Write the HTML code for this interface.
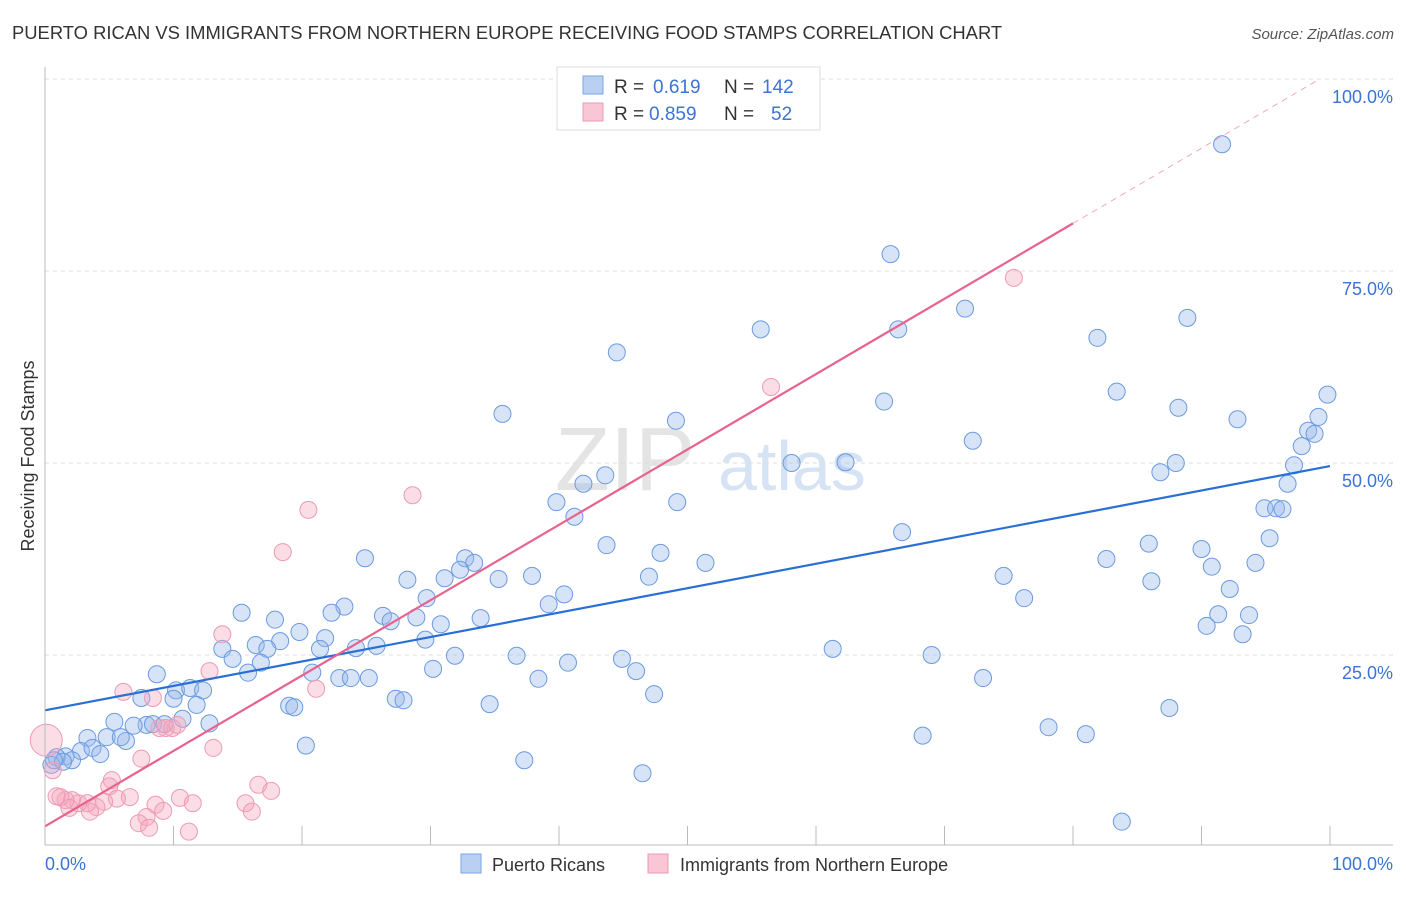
<!DOCTYPE html>
<html><head><meta charset="utf-8">
<style>
body{margin:0;background:#fff;font-family:"Liberation Sans",sans-serif;}
svg text{font-family:"Liberation Sans",sans-serif;}
</style></head>
<body>
<svg id="chart" width="1406" height="892" viewBox="0 0 1406 892">
<text x="12" y="39" font-size="18.4" fill="#333">PUERTO RICAN VS IMMIGRANTS FROM NORTHERN EUROPE RECEIVING FOOD STAMPS CORRELATION CHART</text>
<text x="1394" y="39" font-size="15" fill="#555" text-anchor="end" font-style="italic">Source: ZipAtlas.com</text>
<text x="555" y="490" font-size="90" fill="#e4e4e4" font-family="Liberation Serif">ZIP</text>
<text x="718" y="490" font-size="70" fill="#d6e3f4">atlas</text>
<text transform="translate(34,456) rotate(-90)" font-size="18" fill="#333" text-anchor="middle">Receiving Food Stamps</text>
<g id="grid"></g><g id="pts"></g><g id="lines"></g>
<line x1="45" y1="67" x2="45" y2="845" stroke="#bbb"/>
<line x1="45" y1="845" x2="1393" y2="845" stroke="#bbb"/>
<text x="45" y="870" font-size="18" fill="#3b73d6">0.0%</text>
<text x="1393" y="870" font-size="18" fill="#3b73d6" text-anchor="end">100.0%</text>
<g>
<rect x="557" y="67" width="263" height="63" fill="#fff" stroke="#ddd"/>
<rect x="583" y="76" width="20" height="18" fill="#b9d0f3" stroke="#7aa5e6"/>
<rect x="583" y="103" width="20" height="18" fill="#f8c6d5" stroke="#ee9ab5"/>
<text x="614" y="93" font-size="19" fill="#333">R =</text>
<text x="653" y="93" font-size="19" fill="#3b73d6">0.619</text>
<text x="724" y="93" font-size="19" fill="#333">N =</text>
<text x="762" y="93" font-size="19" fill="#3b73d6">142</text>
<text x="614" y="120" font-size="19" fill="#333">R =</text>
<text x="649" y="120" font-size="19" fill="#3b73d6">0.859</text>
<text x="724" y="120" font-size="19" fill="#333">N =</text>
<text x="771" y="120" font-size="19" fill="#3b73d6">52</text>
</g>
<g>
<rect x="461" y="854" width="20" height="19" fill="#b9d0f3" stroke="#7aa5e6"/>
<text x="492" y="871" font-size="18" fill="#333">Puerto Ricans</text>
<rect x="648" y="854" width="20" height="19" fill="#f8c6d5" stroke="#ee9ab5"/>
<text x="680" y="871" font-size="18" fill="#333">Immigrants from Northern Europe</text>
</g>
</svg>
<script>
const yTicks=[25,50,75,100];
const yTickLabels=["25.0%","50.0%","75.0%","100.0%"];
const xTicks=[10,20,30,40,50,60,70,80,90,100];
const blueX=[91.6,65.8,71.6,55.7,66.4,88.9,81.9,44.5,83.4,65.3,88.2,35.6,49.1,92.8,99.8,99.1,98.3,98.8,97.8,72.2,97.2,96.7,58.1,62.3,88.0,86.8,43.6,41.9,39.8,49.2,94.9,95.8,96.3,41.2,66.7,95.3,85.9,90.0,82.6,94.2,43.7,47.9,51.4,24.9,32.7,33.4,32.3,90.8,74.6,86.1,92.2,37.9,35.3,31.1,28.2,47.0,76.2,29.7,40.4,39.2,91.3,93.7,15.3,17.9,23.3,22.3,26.3,26.9,33.9,28.9,30.8,90.4,93.2,19.8,29.6,21.8,18.3,16.4,17.3,21.4,24.2,25.8,61.3,13.8,69.0,36.7,31.9,44.9,14.6,16.8,40.7,30.2,46.0,15.8,20.8,22.9,23.8,25.2,73.0,38.4,8.7,10.2,11.3,12.3,7.5,10.0,47.4,27.3,27.9,19.0,19.4,34.6,11.8,87.5,5.4,12.8,10.7,7.9,6.9,8.4,9.3,3.3,4.8,6.3,5.9,2.8,3.7,4.3,1.6,2.1,0.9,0.5,1.4,0.7,20.3,78.1,81.0,68.3,37.3,46.5,83.8];
const blueY=[91.5,77.2,70.1,67.4,67.4,68.9,66.3,64.4,59.3,58.0,57.2,56.4,55.5,55.7,58.9,56.0,54.2,53.8,52.2,52.9,49.7,47.3,50.0,50.1,50.0,48.8,48.4,47.3,44.9,44.9,44.1,44.1,44.0,43.0,41.0,40.2,39.5,38.8,37.5,37.0,39.3,38.3,37.0,37.6,37.6,37.0,36.1,36.5,35.3,34.6,33.6,35.3,34.9,35.0,34.8,35.2,32.4,32.4,32.9,31.6,30.3,30.2,30.5,29.6,31.3,30.5,30.1,29.4,29.8,29.9,29.0,28.8,27.7,28.0,27.0,27.2,26.8,26.3,25.8,25.8,25.9,26.2,25.8,25.8,25.0,24.9,24.9,24.5,24.5,24.0,24.0,23.2,22.9,22.7,22.7,22.0,22.0,22.0,22.0,21.9,22.5,20.4,20.7,20.4,19.4,19.3,19.9,19.3,19.1,18.4,18.2,18.6,18.5,18.1,16.3,16.1,16.7,15.9,15.8,16.0,16.0,14.2,14.3,13.8,14.3,12.5,12.9,12.1,11.8,11.3,11.7,10.7,11.1,11.3,13.2,15.6,14.7,14.5,11.3,9.6,3.3];
const pinkX=[75.4,56.5,28.6,20.5,18.5,13.8,21.1,6.1,8.4,12.8,9.4,8.9,9.9,10.3,13.1,7.5,5.2,5.0,16.6,17.6,15.6,16.1,10.5,11.5,6.6,5.6,4.6,4.0,3.5,3.3,2.6,2.1,1.6,1.2,0.9,1.9,8.6,9.2,7.9,7.3,8.1,11.2,0.6,0.1];
const pinkY=[74.1,59.9,45.8,43.9,38.4,27.7,20.6,20.2,19.4,22.9,15.5,15.5,15.5,15.9,12.9,11.5,8.7,7.9,8.1,7.3,5.7,4.6,6.4,5.7,6.5,6.3,5.9,5.2,4.6,5.7,5.7,6.1,6.1,6.5,6.6,5.1,5.5,4.7,3.9,3.1,2.5,2.0,10.0,13.9];
const blueLine=[[0,17.8],[100,49.6]];
const pinkLine=[[0,2.7],[80,81.2],[99,99.8]];
const X=v=>45+v*12.85, Y=v=>847-v*7.68;
const NS="http://www.w3.org/2000/svg";
function mk(t,a,p){const e=document.createElementNS(NS,t);for(const k in a)e.setAttribute(k,a[k]);p.appendChild(e);return e;}
const grid=document.getElementById('grid'),pts=document.getElementById('pts'),lines=document.getElementById('lines');
yTicks.forEach((t,i)=>{
 const l=mk('line',{x1:45,x2:1393,y1:Y(t),y2:Y(t),stroke:'#ddd','stroke-dasharray':'4,4'},grid);
 
 
 const tx=mk('text',{x:1393,y:Y(t)+24,'font-size':18,fill:'#3b73d6','text-anchor':'end'},grid);
 tx.textContent=yTickLabels[i];
 
 
});
xTicks.forEach(t=>{
 const l=mk('line',{x1:X(t),x2:X(t),y1:826,y2:845,stroke:'#bbb'},grid);
 
 
});
blueX.forEach((x,i)=>{
 const c=mk('circle',{cx:X(x),cy:Y(blueY[i]),r:8.5,fill:'rgba(150,185,235,0.38)',stroke:'#6b9ae0','stroke-width':1},pts);
 
 
});
pinkX.forEach((x,i)=>{
 const c=mk('circle',{cx:X(x),cy:Y(pinkY[i]),r:i==pinkX.length-1?16:8.5,fill:'rgba(245,165,190,0.38)',stroke:'#ee9ab5','stroke-width':1},pts);
 
 
});
const bl=mk('line',{x1:X(blueLine[0][0]),y1:Y(blueLine[0][1]),x2:X(blueLine[1][0]),y2:Y(blueLine[1][1]),stroke:'#2a6fd6','stroke-width':2.2},lines);


const pl=mk('line',{x1:X(pinkLine[0][0]),y1:Y(pinkLine[0][1]),x2:X(pinkLine[1][0]),y2:Y(pinkLine[1][1]),stroke:'#e8628e','stroke-width':2.2},lines);


const pd=mk('line',{x1:X(pinkLine[1][0]),y1:Y(pinkLine[1][1]),x2:X(pinkLine[2][0]),y2:Y(pinkLine[2][1]),stroke:'#f0a8c0','stroke-width':1,'stroke-dasharray':'6,5'},lines);


</script>
</body></html>
